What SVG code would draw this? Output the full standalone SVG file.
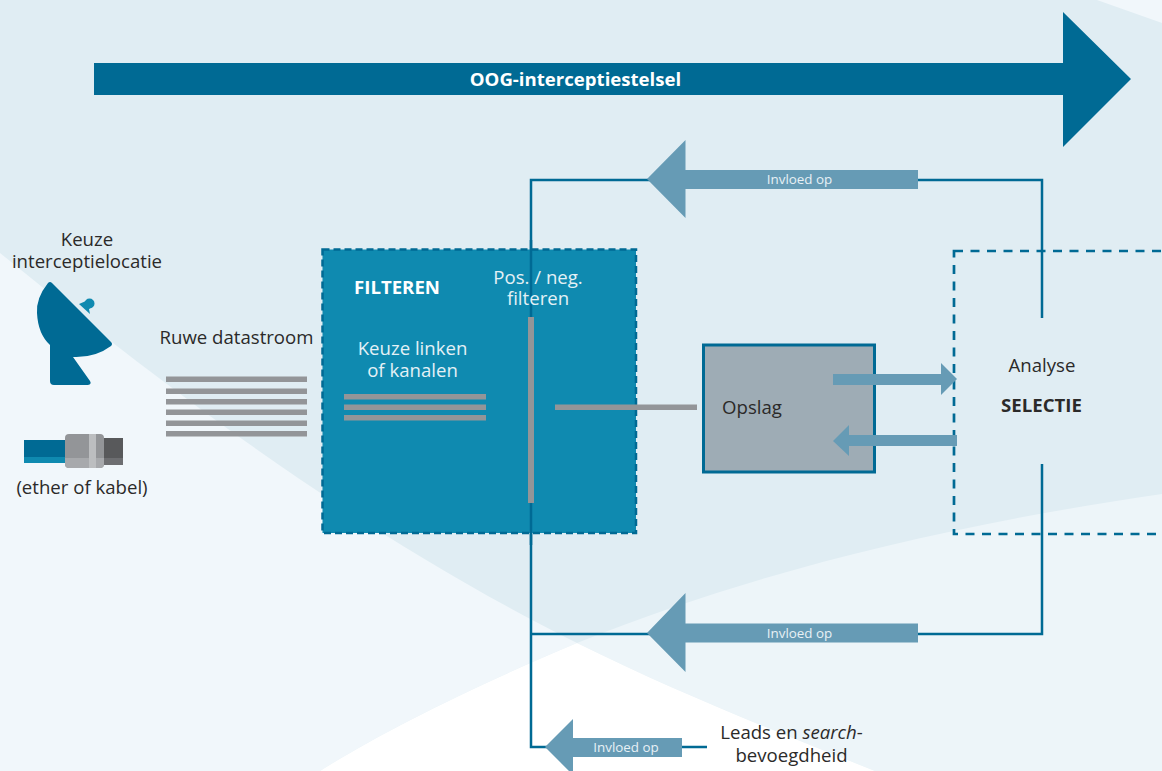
<svg xmlns="http://www.w3.org/2000/svg" width="1162" height="771" viewBox="0 0 1162 771">
<style>
text{font-family:"Open Sans","Noto Sans",sans-serif;font-size:18.6px;fill:#2b2a29;text-anchor:middle}
.w{fill:#e4f1f6}.b{font-weight:700}.s{font-size:13.4px;fill:#e8f1f5}.wb{fill:#fff;font-weight:700}
.line{fill:none;stroke:#006a94;stroke-width:2.5}
.g{fill:#939598}.a{fill:#669bb5}
</style>
<g id="background">
<rect width="1162" height="771" fill="#e0edf3"/>
<path d="M0 253C150 375 350 530 577 643C470 688 380 733 320 771H0Z" fill="#f1f7fb"/>
<path d="M577 643C680 694 780 733 875 771H1162V494C950 525 760 570 577 643Z" fill="#edf5f9"/>
<path d="M577 643C680 694 780 733 875 771H320C380 733 470 688 577 643Z" fill="#fff"/>
<path d="M1097 0H1162V23Z" fill="#f1f7fb"/>
</g>
<g id="connectors">
<path class="line" d="M1042 318V180H531V747H707M1042 464V634H531"/>
</g>
<g id="oog"><path d="M94 63H1063V12L1131 79L1063 147V95H94Z" fill="#006a94"/><text x="575.5" y="86" class="wb">OOG-interceptiestelsel</text></g>
<g id="invloed1"><path class="a" d="M918 170H685.500V140L647 179L685.500 218V189H918Z"/><text class="s" x="799.500" y="184">Invloed op</text></g>
<g id="invloed2"><path class="a" d="M918 623.500H685.500V593L647 633L685.500 672V642.500H918Z"/><text class="s" x="799.500" y="638">Invloed op</text></g>
<g id="invloed3"><path class="a" d="M682 738H573V719L545 747L573 775V757H682Z"/><text class="s" x="626" y="752">Invloed op</text></g>
<g id="filteren">
<rect x="322.500" y="249.500" width="313.500" height="283.500" fill="#0f8ab0" stroke="#006a94" stroke-width="2.500" stroke-dasharray="7 4"/>
<path d="M531 240V545" stroke="#006a94" stroke-width="2.500"/>
<text x="397" y="294" class="wb">FILTEREN</text>
<text class="w" x="538" y="284">Pos. / neg.<tspan x="538" dy="21">filteren</tspan></text>
<text class="w" x="412.500" y="355">Keuze linken<tspan x="412.500" dy="22">of kanalen</tspan></text>
<rect class="g" x="344" y="394" width="142" height="5.500"/><rect class="g" x="344" y="404.500" width="142" height="5.500"/><rect class="g" x="344" y="415" width="142" height="5.500"/>
<rect class="g" x="528" y="317" width="6" height="186"/>
<rect class="g" x="555" y="404.500" width="142" height="5.500"/>
</g>
<g id="opslag">
<rect x="703.500" y="345" width="171" height="127" fill="#9eacb5" stroke="#006a94" stroke-width="3"/>
<text x="752" y="414">Opslag</text>
</g>
<g id="selectie">
<rect x="954" y="251" width="240" height="283" fill="none" stroke="#006a94" stroke-width="2.700" stroke-dasharray="9 7.500"/>
<text x="1042" y="372">Analyse</text><text x="1041.500" y="412" class="b">SELECTIE</text>
</g>
<g id="opslag-arrows">
<path class="a" d="M833 374H941V363L957 379L941 395V385H833Z"/>
<path class="a" d="M957 435H849V425L833 441L849 456V446H957Z"/>
</g>
<g id="bron">
<text x="87" y="246">Keuze<tspan x="87" dy="22">interceptielocatie</tspan></text>
<path d="M48 283Q36 298 37 313Q38 334 50 345V381Q50 385 54 385H88Q92 384 90 381L73 357Q95 358 111 346Q113 344 111 342L52 283Q50 281 48 283Z" fill="#006a94"/>
<path d="M79 304L86 301L93 306L89 309L90 314Z" fill="#0f8ab0"/><circle cx="89.500" cy="303.500" r="5" fill="#0f8ab0"/>
<path d="M24 440H66V463H24Z" fill="#006a94"/><path d="M24 457H66V463H24Z" fill="#0f8ab0"/>
<path d="M104 438H123V465H104Z" fill="#58595b"/><path d="M104 458H123V465H104Z" fill="#6d6e71"/>
<rect x="65" y="434" width="39" height="34" rx="4" fill="#939598"/><path d="M65 458H104V464Q104 468 100 468H69Q65 468 65 464Z" fill="#a7a9ac"/><rect x="89" y="434" width="7" height="34" fill="#bcbec0"/>
<text x="82" y="494">(ether of kabel)</text>
</g>
<g id="datastroom">
<text x="236.500" y="344">Ruwe datastroom</text>
<rect class="g" x="166" y="376.500" width="141" height="5.500"/><rect class="g" x="166" y="388.500" width="141" height="5.500"/><rect class="g" x="166" y="399" width="141" height="5.500"/><rect class="g" x="166" y="409.500" width="141" height="5.500"/><rect class="g" x="166" y="420.500" width="141" height="5.500"/><rect class="g" x="166" y="431" width="141" height="5.500"/>
</g>
<g id="leads"><text x="791.500" y="739">Leads en <tspan font-style="italic">search</tspan>-<tspan x="791.500" dy="23">bevoegdheid</tspan></text></g>
</svg>
